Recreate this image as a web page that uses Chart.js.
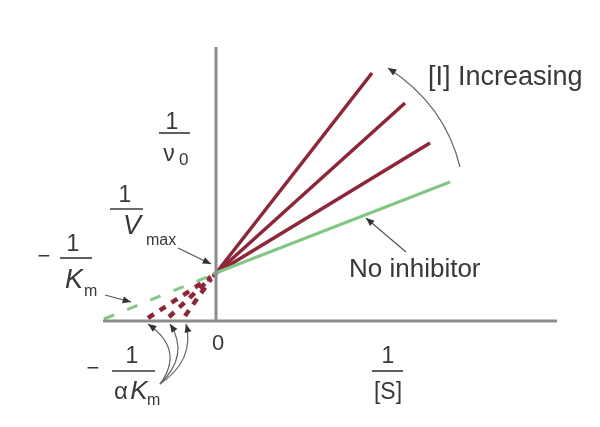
<!DOCTYPE html>
<html><head><meta charset="utf-8">
<script src="https://cdn.jsdelivr.net/npm/chart.js@4/dist/chart.umd.min.js"></script>
<style>html,body{margin:0;padding:0;background:#fff}#w{width:600px;height:427px;position:relative}</style>
</head><body><div id="w"><canvas id="c"></canvas></div>
<script>
// Lineweaver–Burk plot, competitive inhibition (x = 1/[S], y = 1/v0, arbitrary units)
const seriesNames = ['No inhibitor', '[I] low', '[I] medium', '[I] high'];
const noInhibitorX = [-0.03, 2.34];
const noInhibitorY = [0.47, 1.39];
const inhibitor1X = [-0.03, 2.14];
const inhibitor1Y = [0.46, 1.78];
const inhibitor2X = [-0.03, 1.89];
const inhibitor2Y = [0.45, 2.18];
const inhibitor3X = [-0.03, 1.56];
const inhibitor3Y = [0.44, 2.48];
// extrapolated (dashed) parts down to the x intercepts -1/Km and -1/(alpha Km)
const noInhibitorExtX = [-1.12, -0.04];
const noInhibitorExtY = [0.02, 0.46];
const inhibitor1ExtX = [-0.68, -0.05];
const inhibitor1ExtY = [0.03, 0.44];
const inhibitor2ExtX = [-0.47, -0.05];
const inhibitor2ExtY = [0.04, 0.43];
const inhibitor3ExtX = [-0.31, -0.05];
const inhibitor3ExtY = [0.05, 0.42];
// axes extents
const xAxisX = [-1.13, 3.41];
const xAxisY = [0, 0];
const yAxisX = [0, 0];
const yAxisY = [0, 2.74];

const RED = '#8d2638', GREEN = '#82c785', AXIS = '#8c8c8c', INK = '#383838';
const pts = (xs, ys) => xs.map((x, i) => ({x, y: ys[i]}));
const ds = (label, xs, ys, color, width, dash) => ({
  label, data: pts(xs, ys), borderColor: color, borderWidth: width,
  borderDash: dash || [], showLine: true, pointRadius: 0, fill: false, borderCapStyle: 'butt'
});

const annot = {
  id: 'annot',
  afterDatasetsDraw(chart) {
    const c = chart.ctx, X = chart.scales.x, Y = chart.scales.y;
    const px = v => X.getPixelForValue(v), py = v => Y.getPixelForValue(v);
    c.save();
    c.fillStyle = INK; c.strokeStyle = INK;
    const F = 'Liberation Sans, Arial, Helvetica, sans-serif';
    const txt = (s, x, y, size, align, style) => {
      c.fillStyle = INK;
      c.font = (style || '') + ' ' + size + 'px ' + F;
      c.textAlign = align || 'center'; c.textBaseline = 'middle';
      c.fillText(s, px(x), py(y));
    };
    const bar = (x1, x2, y) => {
      c.strokeStyle = INK;
      c.lineWidth = 1.6; c.beginPath(); c.moveTo(px(x1), py(y)); c.lineTo(px(x2), py(y)); c.stroke();
    };
    const head = (x0, y0, x1, y1) => {
      const a = Math.atan2(y1 - y0, x1 - x0), L = 9, W = 0.4;
      c.beginPath(); c.moveTo(x1, y1);
      c.lineTo(x1 - L * Math.cos(a - W), y1 - L * Math.sin(a - W));
      c.lineTo(x1 - L * Math.cos(a + W), y1 - L * Math.sin(a + W));
      c.closePath(); c.fill();
    };
    const arrow = (x0, y0, x1, y1) => {
      c.lineWidth = 1.2; c.strokeStyle = '#555'; c.fillStyle = '#333';
      c.beginPath(); c.moveTo(px(x0), py(y0)); c.lineTo(px(x1), py(y1)); c.stroke();
      head(px(x0), py(y0), px(x1), py(y1));
    };
    const curve = (x0, y0, cx, cy, x1, y1) => {
      c.lineWidth = 1.2; c.strokeStyle = '#666'; c.fillStyle = '#333';
      c.beginPath(); c.moveTo(px(x0), py(y0)); c.quadraticCurveTo(px(cx), py(cy), px(x1), py(y1)); c.stroke();
      head(px(cx), py(cy), px(x1), py(y1));
    };
    // 1/v0
    txt('1', -0.44, 1.98, 23); bar(-0.57, -0.26, 1.88);
    txt('\u03bd', -0.47, 1.66, 23, 'center'); txt('0', -0.37, 1.61, 17, 'left');
    // 1/Vmax
    txt('1', -0.91, 1.25, 23); bar(-1.06, -0.73, 1.12);
    txt('V', -0.84, 0.95, 27, 'center', 'italic'); txt('max', -0.70, 0.80, 16, 'left');
    // -1/Km
    txt('\u2212', -1.72, 0.64, 22); txt('1', -1.43, 0.76, 23); bar(-1.56, -1.24, 0.63);
    txt('K', -1.42, 0.41, 27, 'center', 'italic'); txt('m', -1.32, 0.29, 16, 'left');
    // 0
    txt('0', 0.02, -0.23, 22);
    // -1/(alpha Km)
    txt('\u2212', -1.23, -0.48, 22); txt('1', -0.84, -0.36, 23); bar(-1.04, -0.61, -0.50);
    txt('\u03b1', -0.95, -0.71, 24, 'center'); txt('K', -0.77, -0.71, 26, 'center', 'italic');
    txt('m', -0.69, -0.80, 16, 'left');
    // 1/[S]
    txt('1', 1.72, -0.36, 23); bar(1.56, 1.87, -0.50);
    txt('[S]', 1.72, -0.72, 23);
    // labels
    txt('[I] Increasing', 2.12, 2.43, 27, 'left');
    txt('No inhibitor', 1.33, 0.51, 26, 'left');
    // arrows
    curve(2.44, 1.54, 2.29, 2.16, 1.72, 2.53);
    arrow(1.90, 0.69, 1.50, 1.03);
    arrow(-0.38, 0.73, -0.05, 0.57);
    arrow(-1.11, 0.26, -0.85, 0.19);
    curve(-0.56, -0.63, -0.31, -0.29, -0.68, -0.03);
    curve(-0.56, -0.63, -0.26, -0.34, -0.46, -0.03);
    curve(-0.56, -0.63, -0.21, -0.39, -0.30, -0.03);
    c.restore();
  }
};

new Chart(document.getElementById('c'), {
  type: 'scatter',
  data: {
    datasets: [
      ds('x axis', xAxisX, xAxisY, AXIS, 3),
      ds('y axis', yAxisX, yAxisY, AXIS, 3),
      ds(seriesNames[0] + ' (extrapolated)', noInhibitorExtX, noInhibitorExtY, GREEN, 3, [11, 14]),
      ds(seriesNames[1] + ' (extrapolated)', inhibitor1ExtX, inhibitor1ExtY, RED, 4.5, [7, 7]),
      ds(seriesNames[2] + ' (extrapolated)', inhibitor2ExtX, inhibitor2ExtY, RED, 4.5, [7, 7]),
      ds(seriesNames[3] + ' (extrapolated)', inhibitor3ExtX, inhibitor3ExtY, RED, 4.5, [7, 7]),
      ds(seriesNames[0], noInhibitorX, noInhibitorY, GREEN, 3),
      ds(seriesNames[1], inhibitor1X, inhibitor1Y, RED, 3.5),
      ds(seriesNames[2], inhibitor2X, inhibitor2Y, RED, 3.5),
      ds(seriesNames[3], inhibitor3X, inhibitor3Y, RED, 3.5)
    ]
  },
  options: {
    responsive: true, maintainAspectRatio: false, animation: false,
    layout: {padding: 0},
    plugins: {legend: {display: false}, tooltip: {enabled: false}},
    scales: {
      x: {type: 'linear', display: false, min: -2.16, max: 3.84},
      y: {type: 'linear', display: false, min: -1.06, max: 3.21}
    }
  },
  plugins: [annot]
});
</script>
</body></html>
